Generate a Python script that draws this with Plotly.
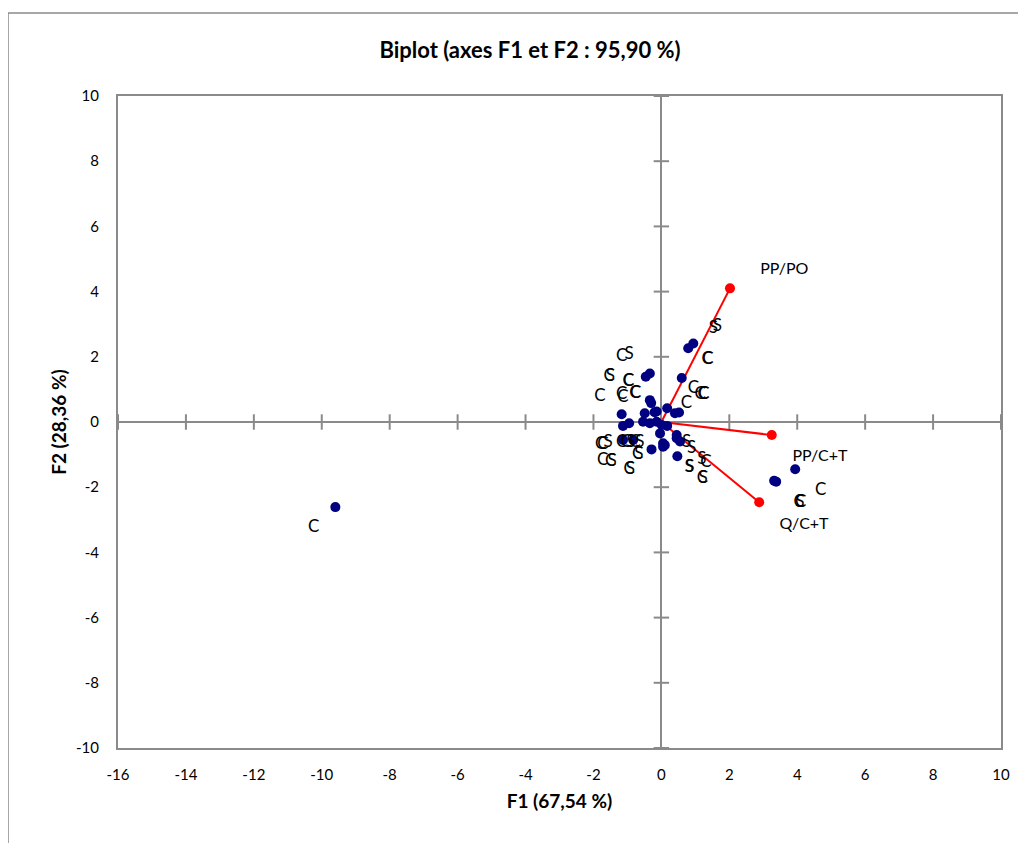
import plotly.graph_objects as go

# Observations (blue points)
obs_x = [0.94, 0.79, -0.34, -0.46, 0.60, -0.34, -0.30, -1.17, -0.49, -0.14, 0.17, 0.40, 0.52,
         -1.13, -0.95, -0.54, -0.34, -0.14, 0.01, 0.17, -0.04, -1.13, -0.83, 0.45, 0.55,
         0.10, 0.05, -0.29, 0.47, 3.94, 3.32, 3.38, -9.60, -0.20, 0.05, 0.45]
obs_y = [2.41, 2.26, 1.49, 1.39, 1.35, 0.67, 0.58, 0.24, 0.27, 0.32, 0.42, 0.27, 0.29,
         -0.12, -0.04, 0.01, -0.04, 0.01, -0.09, -0.12, -0.35, -0.55, -0.55, -0.50, -0.60,
         -0.71, -0.76, -0.84, -1.05, -1.45, -1.80, -1.83, -2.61, 0.30, -0.65, -0.40]

# Observation labels
lab_text = ["C", "S", "C", "S", "C", "C", "C", "C", "C", "C", "C",
            "C", "C", "S", "C", "C", "S", "C", "S", "C", "S", "C", "C", "S", "C", "S",
            "S", "S", "C", "C", "C", "C", "C", "C", "C",
            "S", "S", "S", "S", "S", "C", "C", "S", "C", "C", "S", "C",
            "C"]
lab_x = [-1.17, -0.95, -1.54, -1.50, -0.98, -0.96, -0.78, -0.76, -1.17, -1.13, -1.81,
         -1.79, -1.72, -1.57, -1.17, -1.03, -0.90, -0.78, -0.63, -0.70, -0.66, -1.73, -1.49, -1.45, -0.95, -0.91,
         1.53, 1.65, 1.35, 1.37, 0.94, 1.14, 1.23, 1.25, 0.74,
         0.74, 0.89, 0.82, 0.84, 1.19, 1.31, 1.21, 1.23, 4.69, 4.06, 4.08, 4.10,
         -10.24]
lab_y = [2.00, 2.06, 1.39, 1.39, 1.24, 1.22, 0.88, 0.86, 0.83, 0.73, 0.78,
         -0.71, -0.71, -0.65, -0.65, -0.65, -0.65, -0.65, -0.65, -1.01, -1.01, -1.19, -1.22, -1.22, -1.47, -1.47,
         2.87, 2.92, 1.90, 1.90, 1.03, 0.83, 0.83, 0.83, 0.57,
         -0.65, -0.81, -1.39, -1.39, -1.17, -1.25, -1.73, -1.73, -2.11, -2.49, -2.49, -2.49,
         -3.25]

# Variables (red vectors)
var_names = ["PP/PO", "PP/C+T", "Q/C+T"]
var_x = [2.02, 3.25, 2.88]
var_y = [4.10, -0.40, -2.46]
var_lab_x = [3.62, 4.67, 4.20]
var_lab_y = [4.66, -1.06, -3.16]

x_ticks = [-16, -14, -12, -10, -8, -6, -4, -2, 0, 2, 4, 6, 8, 10]
y_ticks = [-10, -8, -6, -4, -2, 0, 2, 4, 6, 8, 10]

GREY = "#8a8a8a"
FONT = "Lato"

fig = go.Figure()

# tick marks on the zero axes
xt_marks = [v for v in x_ticks if v != 0]
yt_marks = [v for v in y_ticks if v != 0]
fig.add_trace(go.Scatter(x=xt_marks, y=[0] * len(xt_marks), mode="markers",
                         marker=dict(symbol="line-ns", size=11, line=dict(color=GREY, width=2)),
                         hoverinfo="skip", showlegend=False))
fig.add_trace(go.Scatter(x=[0] * len(yt_marks), y=yt_marks, mode="markers",
                         marker=dict(symbol="line-ew", size=11, line=dict(color=GREY, width=2)),
                         hoverinfo="skip", showlegend=False))

# red vectors
vx, vy = [], []
for x, y in zip(var_x, var_y):
    vx += [0, x, None]
    vy += [0, y, None]
fig.add_trace(go.Scatter(x=vx, y=vy, mode="lines", line=dict(color="#ff0000", width=2),
                         hoverinfo="skip", showlegend=False))

# observations
fig.add_trace(go.Scatter(x=obs_x, y=obs_y, mode="markers",
                         marker=dict(color="#000080", size=10), showlegend=False))
fig.add_trace(go.Scatter(x=lab_x, y=lab_y, mode="text", text=lab_text,
                         textfont=dict(family=FONT, size=17, color="black"),
                         textposition="middle center", showlegend=False))

# variables
fig.add_trace(go.Scatter(x=var_x, y=var_y, mode="markers",
                         marker=dict(color="#ff0000", size=10), showlegend=False))
fig.add_trace(go.Scatter(x=var_lab_x, y=var_lab_y, mode="text", text=var_names,
                         textfont=dict(family=FONT, size=16, color="black"),
                         textposition="middle center", showlegend=False))

axis_common = dict(showgrid=False, zeroline=True, zerolinecolor=GREY, zerolinewidth=2,
                   showline=True, linecolor=GREY, linewidth=2, mirror=True,
                   ticks="", tickfont=dict(family=FONT, size=15, color="black"))

fig.update_xaxes(range=[-16, 10], tickmode="array", tickvals=x_ticks,
                 ticktext=[str(v) for v in x_ticks], ticklabelstandoff=12,
                 title=dict(text="<b>F1 (67,54 %)</b>", font=dict(family=FONT, size=19, color="black"),
                            standoff=13),
                 **axis_common)
fig.update_yaxes(range=[-10, 10], tickmode="array", tickvals=y_ticks,
                 ticktext=[str(v) for v in y_ticks], ticklabelstandoff=14,
                 title=dict(text="<b>F2 (28,36 %)</b>", font=dict(family=FONT, size=19, color="black"),
                            standoff=4),
                 **axis_common)

# page offset of the figure inside the html body (8 px)
OFF = 8
W, H = 1026 - OFF, 843 - OFF
L, T, R, B = 118 - OFF, 96 - OFF, 25, 95
PW, PH = W - L - R, H - T - B

fig.update_layout(
    width=W, height=H,
    margin=dict(l=L, r=R, t=T, b=B),
    paper_bgcolor="white", plot_bgcolor="white",
    title=dict(text="<b>Biplot (axes F1 et F2 : 95,90 %)</b>",
               font=dict(family=FONT, size=22, color="black"),
               x=(530 - OFF) / W, xanchor="center", xref="container",
               y=1 - (50 - OFF) / H, yanchor="middle", yref="container"),
    shapes=[dict(type="rect", xref="paper", yref="paper",
                 x0=(8 - 118) / PW, x1=(1040 - 118) / PW,
                 y0=(748 - 860) / PH, y1=(748 - 13) / PH,
                 line=dict(color=GREY, width=1.5), layer="below")],
)

fig.write_html("out.html")
